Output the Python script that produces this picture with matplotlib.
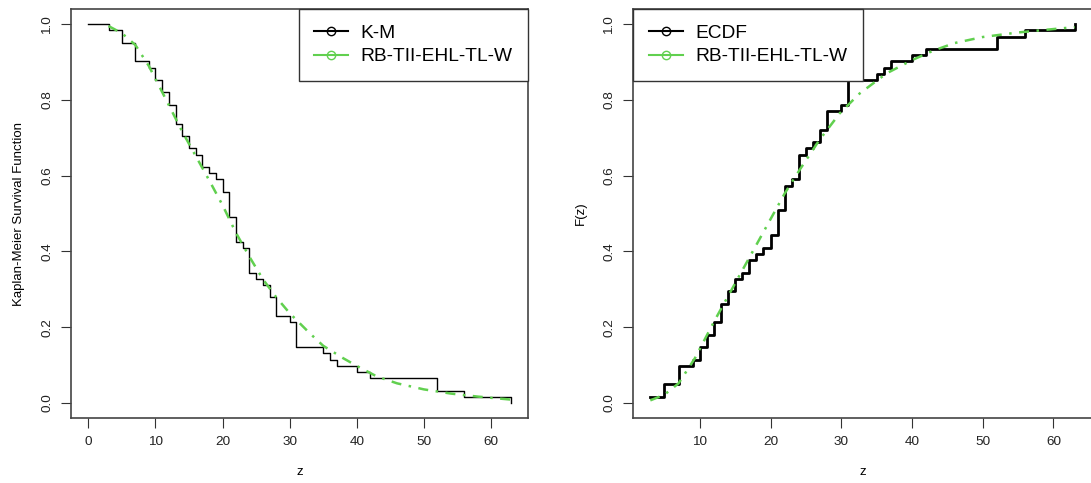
import numpy as np
import matplotlib
matplotlib.use("Agg")
import matplotlib.pyplot as plt
from matplotlib.lines import Line2D

plt.rcParams['font.family'] = ['Liberation Sans', 'DejaVu Sans']

# observed times (distinct) and how many at each
times = [3, 5, 7, 9, 10, 11, 12, 13, 14, 15, 16, 17, 18, 19, 20, 21, 22, 23, 24,
         25, 26, 27, 28, 30, 31, 35, 36, 37, 40, 42, 52, 56, 63]
counts = [1, 2, 3, 1, 2, 2, 2, 3, 2, 2, 1, 2, 1, 1, 2, 4, 4, 1, 4,
          1, 1, 2, 3, 1, 4, 1, 1, 1, 1, 1, 2, 1, 1]

# fitted RB-TII-EHL-TL-W survival
surv_z = [3, 5, 7, 9, 12, 14, 16, 18, 20, 22, 24, 26, 28, 30, 33, 35, 38, 40,
          43, 46, 50, 54, 58, 63]
surv_fit = [0.995, 0.976, 0.945, 0.890, 0.786, 0.716, 0.652, 0.588, 0.522, 0.449,
            0.386, 0.327, 0.279, 0.237, 0.184, 0.151, 0.118, 0.098, 0.070, 0.052,
            0.036, 0.025, 0.017, 0.009]

# fitted CDF
cdf_z = [3, 5, 7, 9.3, 12.1, 14.2, 16.8, 19.4, 22, 24.1, 26.9, 29.8, 32.6, 36.4,
         40, 43, 46, 50, 55, 60, 63]
cdf_fit = [0.007, 0.022, 0.052, 0.118, 0.218, 0.289, 0.377, 0.465, 0.553, 0.615,
           0.694, 0.765, 0.817, 0.870, 0.905, 0.930, 0.950, 0.966, 0.978, 0.987, 0.992]

t = np.array(times)
c = np.array(counts)
n = c.sum()
cum = np.cumsum(c)
km = 1 - cum / n
ecdf = cum / n

green = '#61D04F'
dash = (0, (4, 3, 1, 3))
fig = plt.figure(figsize=(10.91, 4.83), dpi=100)
ax1 = fig.add_axes([0.0655, 0.1342, 0.4185, 0.8472])
ax2 = fig.add_axes([0.5805, 0.1342, 0.4201, 0.8472])

# left: Kaplan-Meier
ax1.step(np.r_[0, t], np.r_[1, km], where='post', color='black', lw=1)
ax1.plot(surv_z, surv_fit, color=green, lw=1.8, ls=dash)
ax1.set_xlim(-2.52, 65.52)
ax1.set_xticks([0, 10, 20, 30, 40, 50, 60])
ax1.set_ylabel('Kaplan-Meier Survival Function', fontsize=9.5, labelpad=12)

# right: ECDF
ax2.step(t, ecdf, where='post', color='black', lw=2)
ax2.plot(cdf_z, cdf_fit, color=green, lw=1.8, ls=dash)
ax2.set_xlim(0.6, 65.4)
ax2.set_xticks([10, 20, 30, 40, 50, 60])
ax2.set_ylabel('F(z)', fontsize=9.5, labelpad=12)

for ax in (ax1, ax2):
    ax.set_ylim(-0.04, 1.04)
    ax.set_yticks([0, 0.2, 0.4, 0.6, 0.8, 1.0])
    ax.set_yticklabels(['0.0', '0.2', '0.4', '0.6', '0.8', '1.0'], rotation=90, va='center')
    ax.set_xlabel('z', fontsize=9.5, labelpad=13)
    ax.tick_params(labelsize=9.7, length=7, color='#333333', labelcolor='#222222', pad=6)
    for s in ax.spines.values():
        s.set_color('#444444')
        s.set_linewidth(1.2)

def handles(label1):
    return [Line2D([], [], color='black', marker='o', mfc='none', ms=6, lw=1.5, label=label1),
            Line2D([], [], color=green, marker='o', mfc='none', ms=6, lw=1.5, label='RB-TII-EHL-TL-W')]

for ax, lab, loc in ((ax1, 'K-M', 'upper right'), (ax2, 'ECDF', 'upper left')):
    leg = ax.legend(handles=handles(lab), loc=loc, fontsize=13.8, borderaxespad=0,
                    fancybox=False, framealpha=1, edgecolor='#333333',
                    handlelength=1.75, handletextpad=0.65, labelspacing=0.3,
                    borderpad=0.82)
    leg.get_frame().set_linewidth(1.0)

fig.savefig('out.png', dpi=100)
